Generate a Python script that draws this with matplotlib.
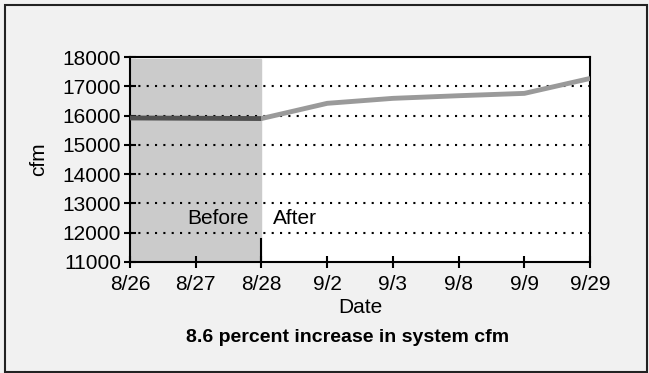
import matplotlib.pyplot as plt
from matplotlib.patches import Rectangle

dates = ["8/26", "8/27", "8/28", "9/2", "9/3", "9/8", "9/9", "9/29"]
cfm = [15920, 15910, 15900, 16420, 16590, 16680, 16760, 17270]
y_ticks = [11000, 12000, 13000, 14000, 15000, 16000, 17000, 18000]
before_end = 2  # index of 8/28

plt.rcParams['font.family'] = ['Liberation Sans Narrow', 'Liberation Sans', 'DejaVu Sans']

fig = plt.figure(figsize=(6.49, 3.73), dpi=100)
fig.patch.set_facecolor("#f1f1f1")
fig.patches.append(Rectangle((0.007, 0.004), 0.99, 0.982, transform=fig.transFigure,
                             fill=False, edgecolor="#222222", linewidth=1.5))

ax = fig.add_axes([0.2003, 0.2976, 0.709, 0.5494])
x = list(range(len(dates)))

# shaded "before" area
ax.axvspan(0, before_end, ymin=0.01, ymax=0.99, color="#cbcbcb", zorder=0)

for v in y_ticks[1:-1]:
    ax.axhline(v, color="black", linestyle=(0, (1, 3)), linewidth=1.5, zorder=1)

ax.plot(x[:before_end + 1], cfm[:before_end + 1], color="#505050", linewidth=3.5, zorder=3,
        solid_capstyle="butt")
ax.plot(x[before_end:], cfm[before_end:], color="#9a9a9a", linewidth=3.5, zorder=3,
        solid_capstyle="butt")

# divider between before and after
ax.plot([before_end, before_end], [11000, 11800], color="black", linewidth=1.5, zorder=4)
ax.text(before_end - 0.2, 12150, "Before", ha="right", va="bottom", fontsize=15)
ax.text(before_end + 0.18, 12150, "After", ha="left", va="bottom", fontsize=15)

ax.set_xlim(0, len(dates) - 1)
ax.set_ylim(11000, 18000)
ax.set_xticks(x)
ax.set_xticklabels(dates)
ax.set_yticks(y_ticks)
ax.tick_params(axis="both", direction="inout", length=9, width=1.5, labelsize=15)
ax.tick_params(axis="x", pad=5)
ax.tick_params(axis="y", pad=2)
for s in ax.spines.values():
    s.set_linewidth(1.5)

ax.set_ylabel("cfm", fontsize=15, labelpad=10)
ax.set_xlabel("Date", fontsize=15, labelpad=3)
fig.text(0.535, 0.094, "8.6 percent increase in system cfm", ha="center", va="center",
         fontsize=14, fontweight="bold")

plt.savefig("out.png", dpi=100, facecolor=fig.get_facecolor())
